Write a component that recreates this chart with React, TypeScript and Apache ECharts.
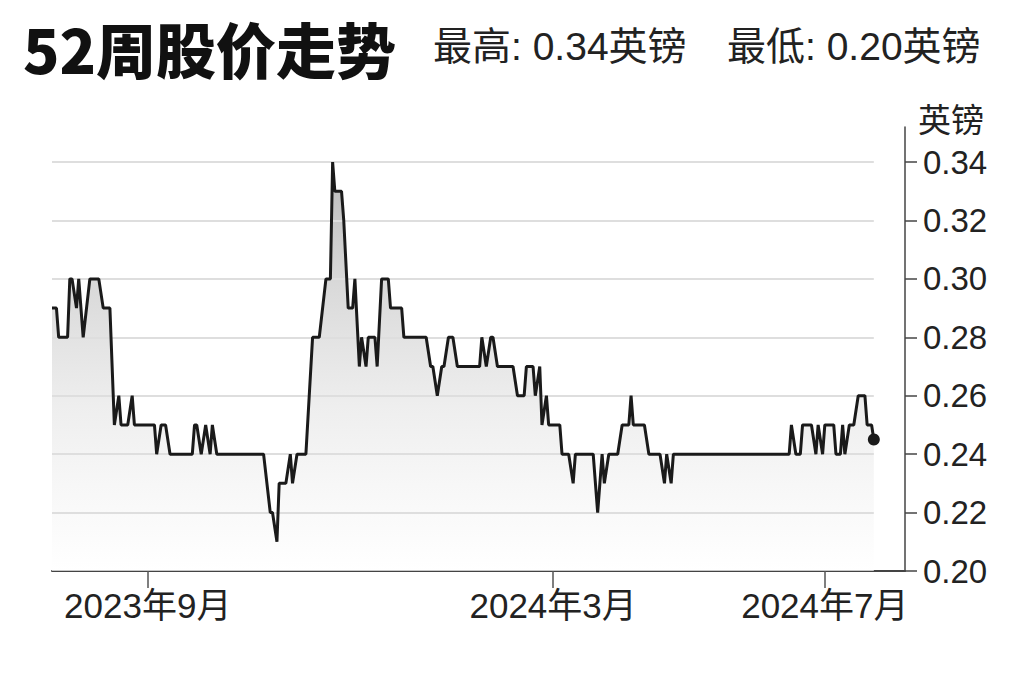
import React, { useEffect, useRef } from "react";
import * as echarts from "echarts";

const chartTitle = "52周股价走势";
const highText = "最高: 0.34英镑";
const lowText = "最低: 0.20英镑";
const unitName = "英镑";

// trading days, counted from 2023-07-20 (first day on the chart)
const dayOffsets = [
  0, 2, 3, 7, 8, 9, 11, 12, 14, 17, 21, 23, 26, 28, 30, 31, 34, 36, 37, 46,
  47, 49, 51, 53, 63, 64, 65, 67, 69, 71, 72, 74, 95, 98, 99, 101, 102, 105,
  107, 108, 110, 114, 117, 120, 123, 125, 126, 127, 130, 131, 133, 135, 136,
  138, 139, 141, 142, 145, 146, 148, 151, 152, 157, 158, 168, 170, 171, 173,
  175, 176, 178, 180, 182, 192, 193, 195, 197, 198, 200, 207, 209, 212, 213,
  216, 217, 219, 220, 222, 223, 228, 229, 232, 234, 235, 243, 245, 247, 248,
  250, 254, 256, 259, 260, 261, 266, 268, 273, 275, 276, 278, 279, 331, 332,
  334, 336, 337, 341, 343, 344, 346, 347, 351, 352, 354, 355, 356, 358, 360,
  362, 365, 366, 368, 369,
];

// share price in pounds, one per entry of dayOffsets
const prices = [
  0.29, 0.29, 0.28, 0.28, 0.3, 0.3, 0.29, 0.3, 0.28, 0.3, 0.3, 0.29, 0.29, 0.25, 0.26, 0.25, 0.25, 0.26, 0.25, 0.25,
  0.24, 0.25, 0.25, 0.24, 0.24, 0.25, 0.25, 0.24, 0.25, 0.24, 0.25, 0.24, 0.24, 0.22, 0.22, 0.21, 0.23, 0.23,
  0.24, 0.23, 0.24, 0.24, 0.28, 0.28, 0.3, 0.3, 0.34, 0.33, 0.33, 0.32, 0.29, 0.29, 0.3,
  0.27, 0.28, 0.27, 0.28, 0.28, 0.27, 0.3, 0.3, 0.29, 0.29, 0.28, 0.28, 0.27, 0.27, 0.26,
  0.27, 0.27, 0.28, 0.28, 0.27, 0.27, 0.28, 0.27, 0.28, 0.28, 0.27, 0.27, 0.26, 0.26, 0.27,
  0.27, 0.26, 0.27, 0.25, 0.26, 0.25, 0.25, 0.24, 0.24, 0.23, 0.24, 0.24, 0.22, 0.24, 0.23,
  0.24, 0.24, 0.25, 0.25, 0.26, 0.25, 0.25, 0.24, 0.24, 0.23, 0.24, 0.23, 0.24, 0.24, 0.25,
  0.24, 0.24, 0.25, 0.25, 0.24, 0.25, 0.24, 0.25, 0.25, 0.24, 0.24, 0.25, 0.24, 0.25, 0.25,
  0.26, 0.26, 0.25, 0.25, 0.245,
];

const tickDays = [43, 225, 347];
const tickLabels = ["2023年9月", "2024年3月", "2024年7月"];
const lastAxisDay = 383;

const priceTicks = [0.2, 0.22, 0.24, 0.26, 0.28, 0.3, 0.32, 0.34];
const gridPrices = [0.22, 0.24, 0.26, 0.28, 0.3, 0.32, 0.34];

const FONT = '"Liberation Sans", "Noto Sans CJK SC", sans-serif';
const CJK = '"Noto Sans CJK SC", "Liberation Sans", sans-serif';

const App = () => {
  const chartRef = useRef<HTMLDivElement>(null);

  useEffect(() => {
    if (!chartRef.current) return;
    const chart = echarts.init(chartRef.current, null, { renderer: "svg" });

    const lastIdx = dayOffsets.length - 1;
    const points: any[] = dayOffsets.map((d, i) => [d, prices[i]]);
    points[lastIdx] = {
      value: [dayOffsets[lastIdx], prices[lastIdx]],
      symbol: "circle",
      symbolSize: 12,
    };

    const gridLines = gridPrices.map((v) => [
      { coord: [dayOffsets[0], v] },
      { coord: [dayOffsets[lastIdx], v] },
    ]);

    chart.setOption({
      animation: false,
      backgroundColor: "#ffffff",
      textStyle: { fontFamily: FONT },
      title: [
        {
          text: chartTitle,
          left: 23,
          top: 17,
          padding: 0,
          textStyle: { fontFamily: CJK, fontSize: 60, fontWeight: 900, color: "#111" },
        },
        {
          text: highText,
          left: 433,
          top: 27,
          padding: 0,
          textStyle: { fontFamily: FONT, fontSize: 39, fontWeight: "normal", color: "#222" },
        },
        {
          text: lowText,
          left: 727,
          top: 27,
          padding: 0,
          textStyle: { fontFamily: FONT, fontSize: 39, fontWeight: "normal", color: "#222" },
        },
      ],
      grid: { left: 52, right: 119, top: 127, bottom: 111 },
      xAxis: {
        type: "value",
        min: 0,
        max: lastAxisDay,
        splitLine: { show: false },
        axisLine: { onZero: false, lineStyle: { color: "#444", width: 2 } },
        axisTick: {
          customValues: tickDays,
          length: 17,
          lineStyle: { color: "#555", width: 1.5 },
        },
        axisLabel: {
          customValues: tickDays,
          margin: 17,
          fontSize: 35,
          color: "#222",
          fontFamily: FONT,
          formatter: (v: number) => tickLabels[tickDays.indexOf(v)] ?? "",
        },
      },
      yAxis: {
        type: "value",
        position: "right",
        min: 0.2,
        max: 0.352,
        name: unitName,
        nameLocation: "end",
        nameGap: 9,
        nameTextStyle: {
          fontSize: 33,
          color: "#222",
          fontFamily: CJK,
          align: "left",
          verticalAlign: "middle",
          padding: [0, 0, 0, 13],
        },
        splitLine: { show: false },
        axisLine: { show: true, onZero: false, lineStyle: { color: "#444", width: 1.5 } },
        axisTick: {
          show: true,
          customValues: priceTicks,
          length: 12,
          lineStyle: { color: "#444", width: 1.5 },
        },
        axisLabel: {
          customValues: priceTicks,
          margin: 18,
          fontSize: 33,
          color: "#222",
          fontFamily: FONT,
          formatter: (v: number) => v.toFixed(2),
        },
      },
      series: [
        {
          type: "line",
          data: points,
          z: 1,
          symbol: "none",
          showSymbol: false,
          silent: true,
          lineStyle: { width: 0 },
          areaStyle: {
            origin: "start",
            color: new echarts.graphic.LinearGradient(0, 0, 0, 1, [
              { offset: 0, color: "#9c9c9c" },
              { offset: 0.3, color: "#c9c9c9" },
              { offset: 0.45, color: "#d9d9d9" },
              { offset: 0.6, color: "#e7e7e7" },
              { offset: 0.78, color: "#f3f3f3" },
              { offset: 1, color: "#ffffff" },
            ]),
          },
          markLine: {
            silent: true,
            symbol: ["none", "none"],
            label: { show: false },
            lineStyle: { color: "#dedede", width: 2, type: "solid" },
            emphasis: { disabled: true },
            data: gridLines,
          },
        },
        {
          type: "line",
          data: points,
          z: 10,
          symbol: "none",
          showSymbol: true,
          silent: true,
          itemStyle: { color: "#1a1a1a" },
          lineStyle: { color: "#1a1a1a", width: 3 },
        },
      ],
    });

    return () => {
      chart.dispose();
    };
  }, []);

  return (
    <div
      ref={chartRef}
      style={{ position: "fixed", left: 0, top: 0, width: "1024px", height: "682px" }}
    />
  );
};

export default App;
